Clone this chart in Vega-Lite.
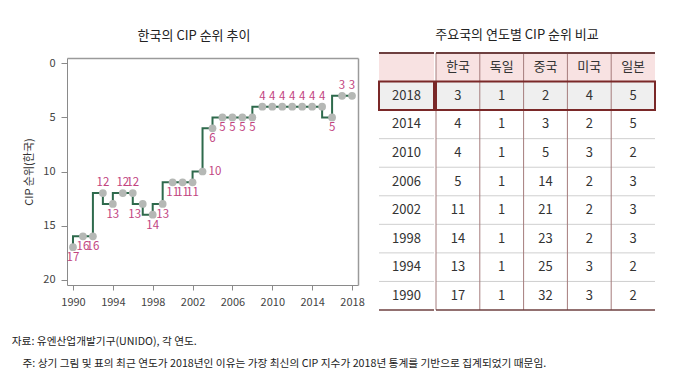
{
  "$schema": "https://vega.github.io/schema/vega-lite/v6.json",
  "padding": {"left": 11, "top": 29, "right": 5, "bottom": 5},
  "config": {
    "font": "Noto Sans CJK KR",
    "view": {"stroke": null},
    "title": {"fontWeight": "normal", "fontSize": 13, "color": "#222"},
    "axis": {"labelColor": "#444", "labelFontSize": 11, "domainColor": "#8a8a8a", "tickColor": "#8a8a8a", "titleFontSize": 11, "titleFontWeight": "normal", "titleColor": "#333", "grid": false}
  },
  "datasets": {
    "korea": [
      {"year": 1990, "rank": 17}, {"year": 1991, "rank": 16}, {"year": 1992, "rank": 16},
      {"year": 1993, "rank": 12}, {"year": 1994, "rank": 13}, {"year": 1995, "rank": 12},
      {"year": 1996, "rank": 12}, {"year": 1997, "rank": 13}, {"year": 1998, "rank": 14},
      {"year": 1999, "rank": 13}, {"year": 2000, "rank": 11}, {"year": 2001, "rank": 11},
      {"year": 2002, "rank": 11}, {"year": 2003, "rank": 10}, {"year": 2004, "rank": 6},
      {"year": 2005, "rank": 5}, {"year": 2006, "rank": 5}, {"year": 2007, "rank": 5},
      {"year": 2008, "rank": 5}, {"year": 2009, "rank": 4}, {"year": 2010, "rank": 4},
      {"year": 2011, "rank": 4}, {"year": 2012, "rank": 4}, {"year": 2013, "rank": 4},
      {"year": 2014, "rank": 4}, {"year": 2015, "rank": 4}, {"year": 2016, "rank": 5},
      {"year": 2017, "rank": 3}, {"year": 2018, "rank": 3}
    ],
    "ranks": [
      {"year": "2018", "country": "한국", "rank": 3}, {"year": "2018", "country": "독일", "rank": 1}, {"year": "2018", "country": "중국", "rank": 2}, {"year": "2018", "country": "미국", "rank": 4}, {"year": "2018", "country": "일본", "rank": 5},
      {"year": "2014", "country": "한국", "rank": 4}, {"year": "2014", "country": "독일", "rank": 1}, {"year": "2014", "country": "중국", "rank": 3}, {"year": "2014", "country": "미국", "rank": 2}, {"year": "2014", "country": "일본", "rank": 5},
      {"year": "2010", "country": "한국", "rank": 4}, {"year": "2010", "country": "독일", "rank": 1}, {"year": "2010", "country": "중국", "rank": 5}, {"year": "2010", "country": "미국", "rank": 3}, {"year": "2010", "country": "일본", "rank": 2},
      {"year": "2006", "country": "한국", "rank": 5}, {"year": "2006", "country": "독일", "rank": 1}, {"year": "2006", "country": "중국", "rank": 14}, {"year": "2006", "country": "미국", "rank": 2}, {"year": "2006", "country": "일본", "rank": 3},
      {"year": "2002", "country": "한국", "rank": 11}, {"year": "2002", "country": "독일", "rank": 1}, {"year": "2002", "country": "중국", "rank": 21}, {"year": "2002", "country": "미국", "rank": 2}, {"year": "2002", "country": "일본", "rank": 3},
      {"year": "1998", "country": "한국", "rank": 14}, {"year": "1998", "country": "독일", "rank": 1}, {"year": "1998", "country": "중국", "rank": 23}, {"year": "1998", "country": "미국", "rank": 2}, {"year": "1998", "country": "일본", "rank": 3},
      {"year": "1994", "country": "한국", "rank": 13}, {"year": "1994", "country": "독일", "rank": 1}, {"year": "1994", "country": "중국", "rank": 25}, {"year": "1994", "country": "미국", "rank": 3}, {"year": "1994", "country": "일본", "rank": 2},
      {"year": "1990", "country": "한국", "rank": 17}, {"year": "1990", "country": "독일", "rank": 1}, {"year": "1990", "country": "중국", "rank": 32}, {"year": "1990", "country": "미국", "rank": 3}, {"year": "1990", "country": "일본", "rank": 2}
    ],
    "countries": [
      {"country": "한국", "row": "국가"}, {"country": "독일", "row": "국가"}, {"country": "중국", "row": "국가"}, {"country": "미국", "row": "국가"}, {"country": "일본", "row": "국가"}
    ]
  },
  "title": {
    "text": ["자료: 유엔산업개발기구(UNIDO), 각 연도.", "\u200b\u3000주: 상기 그림 및 표의 최근 연도가 2018년인 이유는 가장 최신의 CIP 지수가 2018년 통계를 기반으로 집계되었기 때문임."],
    "orient": "bottom", "anchor": "start", "fontSize": 10.7, "fontWeight": "normal", "color": "#222",
    "dx": -12, "offset": 26, "lineHeight": 22
  },
  "spacing": 13,
  "hconcat": [
    {
      "width": 291, "height": 232,
      "title": {"text": "한국의 CIP 순위 추이", "frame": "bounds", "anchor": "middle", "offset": 10},
      "data": {"name": "korea"},
      "layer": [
        {
          "encoding": {
            "x": {"field": "year", "type": "quantitative",
              "scale": {"domain": [1989.4, 2018.6], "nice": false, "zero": false},
              "axis": {"values": [1990, 1994, 1998, 2002, 2006, 2010, 2014, 2018], "format": "d", "title": null, "tickSize": 5, "labelPadding": 6}},
            "y": {"field": "rank", "type": "quantitative",
              "scale": {"domain": [-0.5, 20.5], "range": [5, 232], "nice": false, "zero": false},
              "axis": {"values": [0, 5, 10, 15, 20], "title": "CIP 순위(한국)", "tickSize": 6, "labelPadding": 6, "titlePadding": 8}}
          },
          "layer": [
            {"mark": {"type": "line", "interpolate": "step-before", "color": "#2e6a4c", "strokeWidth": 2}},
            {"mark": {"type": "point", "filled": true, "color": "#b5b8b5", "size": 60, "opacity": 1}},
            {"transform": [{"filter": {"field": "year", "oneOf": [1993, 1995, 1996, 2009, 2010, 2011, 2012, 2013, 2014, 2015, 2017, 2018]}}],
             "mark": {"type": "text", "dy": -10, "fontSize": 11.5, "color": "#c2447f"},
             "encoding": {"text": {"field": "rank", "type": "quantitative"}}},
            {"transform": [{"filter": {"field": "year", "oneOf": [1990, 1991, 1992, 1994, 1998, 1999, 2000, 2001, 2002, 2004, 2005, 2006, 2007, 2008, 2016]}}],
             "mark": {"type": "text", "dy": 11, "fontSize": 11.5, "color": "#c2447f"},
             "encoding": {"text": {"field": "rank", "type": "quantitative"}}},
            {"transform": [{"filter": {"field": "year", "oneOf": [1997]}}],
             "mark": {"type": "text", "dy": 11, "dx": -8, "fontSize": 11.5, "color": "#c2447f"},
             "encoding": {"text": {"field": "rank", "type": "quantitative"}}},
            {"transform": [{"filter": {"field": "year", "oneOf": [2003]}}],
             "mark": {"type": "text", "dx": 6, "align": "left", "fontSize": 11.5, "color": "#c2447f"},
             "encoding": {"text": {"field": "rank", "type": "quantitative"}}}
          ]
        },
        {
          "mark": {"type": "point", "opacity": 0},
          "encoding": {
            "x": {"field": "year", "type": "quantitative",
              "axis": {"orient": "top", "labels": false, "ticks": false, "title": null, "domainColor": "#9a9a9a", "domainWidth": 1.5, "offset": -5, "minExtent": 0}},
            "y": {"field": "rank", "type": "quantitative",
              "axis": {"orient": "right", "labels": false, "ticks": false, "title": null, "domainColor": "#9a9a9a", "domainWidth": 1.5, "minExtent": 0}}
          }
        }
      ],
      "resolve": {"axis": {"x": "independent", "y": "independent"}}
    },
    {
      "title": {"text": "주요국의 연도별 CIP 순위 비교", "anchor": "middle", "offset": 10},
      "spacing": 0,
      "hconcat": [
        {
          "width": 55, "height": 257,
          "layer": [
            {"data": {"name": "countries"}, "transform": [{"filter": "datum.country == '한국'"}],
             "mark": {"type": "rect", "fill": "#f8e2e2"},
             "encoding": {"y": {"field": "row", "type": "nominal", "scale": {"domain": ["국가", "2018", "2014", "2010", "2006", "2002", "1998", "1994", "1990"], "paddingInner": 0, "paddingOuter": 0}, "axis": null}}},
            {"data": {"name": "ranks"}, "transform": [{"filter": "datum.country == '한국' && datum.year == '2018'"}],
             "mark": {"type": "rect", "fill": "#efefef"},
             "encoding": {"y": {"field": "year", "type": "nominal", "axis": null}}},
            {"data": {"name": "ranks"}, "transform": [{"filter": "datum.country == '한국'"}],
             "mark": {"type": "rule", "stroke": "#cfcfcf", "strokeWidth": 1},
             "encoding": {"y": {"field": "year", "type": "nominal", "bandPosition": 0, "axis": null}}},
            {"data": {"name": "ranks"}, "transform": [{"filter": "datum.country == '한국'"}],
             "mark": {"type": "text", "fontSize": 13, "color": "#333"},
             "encoding": {"y": {"field": "year", "type": "nominal", "axis": null}, "text": {"field": "year"}}},
            {"data": {"name": "ranks"}, "transform": [{"filter": "datum.country == '한국' && datum.year == '2018'"}],
             "mark": {"type": "rect", "fillOpacity": 0, "stroke": "#7a2828", "strokeWidth": 2},
             "encoding": {"y": {"field": "year", "type": "nominal", "axis": null}}},
            {"data": {"name": "countries"}, "transform": [{"filter": "datum.country == '한국'"}],
             "mark": {"type": "rule", "stroke": "#6e4040", "strokeWidth": 2},
             "encoding": {"y": {"field": "row", "type": "nominal", "bandPosition": 0, "axis": null}}},
            {"data": {"name": "ranks"}, "transform": [{"filter": "datum.country == '한국' && datum.year == '1990'"}],
             "mark": {"type": "rule", "stroke": "#6e4040", "strokeWidth": 1.5},
             "encoding": {"y": {"field": "year", "type": "nominal", "bandPosition": 1, "axis": null}}}
          ]
        },
        {
          "width": 219, "height": 257,
          "layer": [
            {"data": {"name": "countries"}, "transform": [{"filter": "datum.country == '한국'"}],
             "mark": {"type": "rect", "fill": "#f8e2e2"},
             "encoding": {"y": {"field": "row", "type": "nominal", "scale": {"domain": ["국가", "2018", "2014", "2010", "2006", "2002", "1998", "1994", "1990"], "paddingInner": 0, "paddingOuter": 0}, "axis": null}}},
            {"data": {"name": "ranks"}, "transform": [{"filter": "datum.country == '한국' && datum.year == '2018'"}],
             "mark": {"type": "rect", "fill": "#efefef"},
             "encoding": {"y": {"field": "year", "type": "nominal", "axis": null}}},
            {"data": {"name": "ranks"}, "transform": [{"filter": "datum.country == '한국'"}],
             "mark": {"type": "rule", "stroke": "#cfcfcf", "strokeWidth": 1},
             "encoding": {"y": {"field": "year", "type": "nominal", "bandPosition": 0, "axis": null}}},
            {"data": {"name": "countries"},
             "mark": {"type": "rule", "stroke": "#a57c7c", "strokeWidth": 1},
             "encoding": {"x": {"field": "country", "type": "nominal", "bandPosition": 0, "scale": {"domain": ["한국", "독일", "중국", "미국", "일본"], "paddingInner": 0, "paddingOuter": 0}, "axis": null}}},
            {"data": {"name": "countries"},
             "mark": {"type": "text", "fontSize": 13, "color": "#333"},
             "encoding": {"x": {"field": "country", "type": "nominal", "axis": null}, "y": {"field": "row", "type": "nominal", "axis": null}, "text": {"field": "country"}}},
            {"data": {"name": "ranks"},
             "mark": {"type": "text", "fontSize": 13, "color": "#333"},
             "encoding": {"x": {"field": "country", "type": "nominal", "axis": null}, "y": {"field": "year", "type": "nominal", "axis": null}, "text": {"field": "rank", "type": "quantitative"}}},
            {"data": {"name": "ranks"}, "transform": [{"filter": "datum.country == '한국' && datum.year == '2018'"}],
             "mark": {"type": "rect", "fillOpacity": 0, "stroke": "#7a2828", "strokeWidth": 2},
             "encoding": {"y": {"field": "year", "type": "nominal", "axis": null}}},
            {"data": {"name": "countries"}, "transform": [{"filter": "datum.country == '한국'"}],
             "mark": {"type": "rule", "stroke": "#6e4040", "strokeWidth": 2},
             "encoding": {"y": {"field": "row", "type": "nominal", "bandPosition": 0, "axis": null}}},
            {"data": {"name": "ranks"}, "transform": [{"filter": "datum.country == '한국' && datum.year == '1990'"}],
             "mark": {"type": "rule", "stroke": "#6e4040", "strokeWidth": 1.5},
             "encoding": {"y": {"field": "year", "type": "nominal", "bandPosition": 1, "axis": null}}}
          ]
        }
      ]
    }
  ]
}
